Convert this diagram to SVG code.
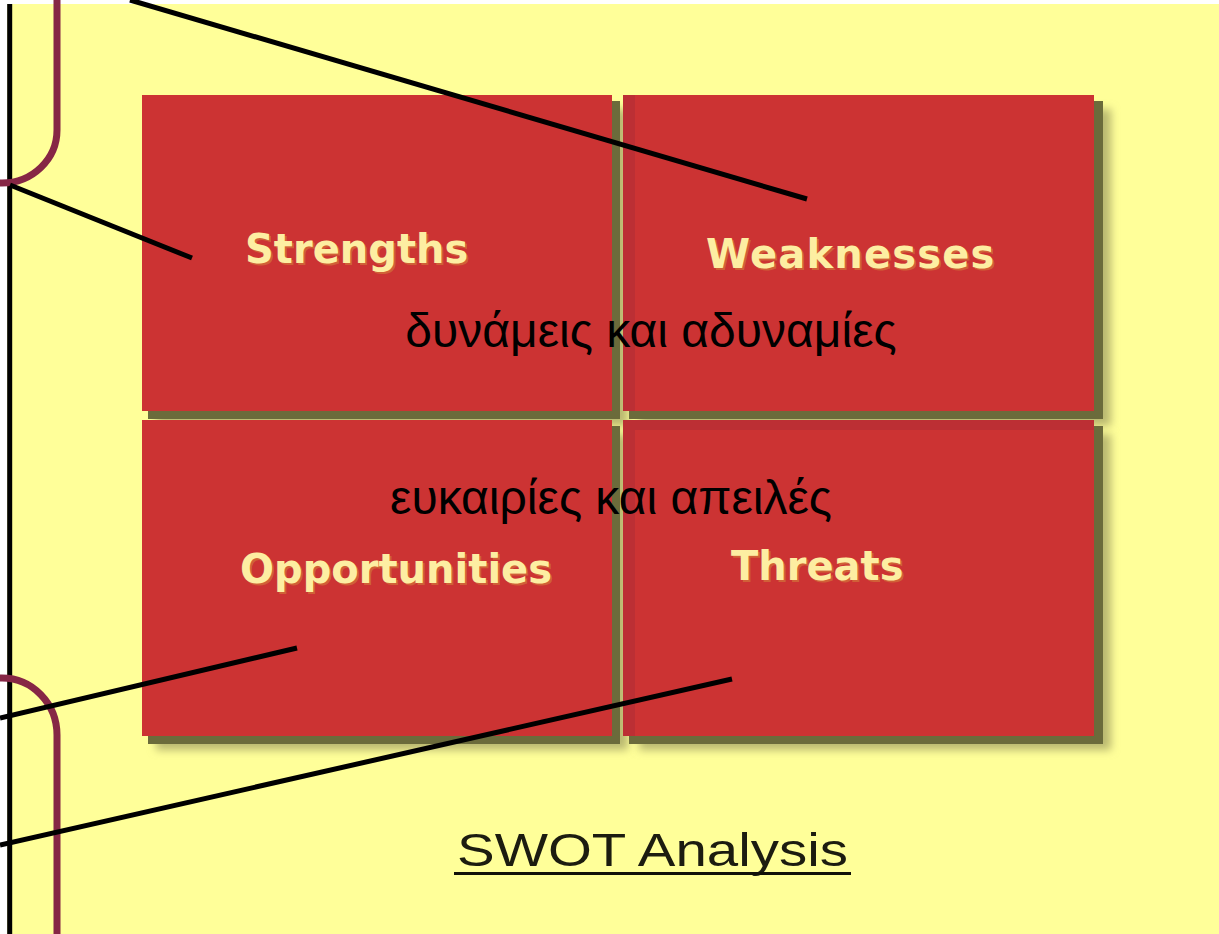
<svg xmlns="http://www.w3.org/2000/svg" width="1219" height="934" viewBox="0 0 1219 934">
<style>
.box{fill:#cc3333}
.sh1{fill:#b9b870}
.sh2{fill:#6b6b3b}
.lbl{font-family:"DejaVu Sans",Verdana,sans-serif;font-weight:bold;font-size:40px;fill:#fdeea2}
.lblsh{font-family:"DejaVu Sans",Verdana,sans-serif;font-weight:bold;font-size:40px;fill:#d2743a;opacity:0.7}
.greek{font-family:"Liberation Sans","Noto Sans",sans-serif;font-size:48px;fill:#000000}
.ln{stroke:#000000;stroke-width:5;fill:none}
.arc{stroke:#862645;stroke-width:7;fill:none}
</style>
<defs>
<filter id="blur" x="-10%" y="-10%" width="120%" height="120%"><feGaussianBlur stdDeviation="4"/></filter>
</defs>
<rect x="0" y="0" width="1219" height="934" fill="#ffffff"/>
<rect x="7" y="4" width="1212" height="930" fill="#ffff99"/>

<g id="shadows">
<rect class="sh1" x="150" y="103" width="472" height="317" filter="url(#blur)" transform="translate(6,6)"/>
<rect class="sh1" x="631" y="103" width="472" height="317" filter="url(#blur)" transform="translate(8,6)"/>
<rect class="sh1" x="150" y="428" width="472" height="316" filter="url(#blur)" transform="translate(6,6)"/>
<rect class="sh1" x="631" y="428" width="472" height="316" filter="url(#blur)" transform="translate(8,6)"/>
</g>

<g id="node-strengths">
<rect class="sh2" x="148" y="101" width="472" height="318"/>
<rect class="box" x="142" y="95" width="470" height="316"/>
<text class="lblsh" x="247" y="265">Strengths</text>
<text class="lbl" x="245" y="263">Strengths</text>
</g>
<g id="node-weaknesses">
<rect class="sh2" x="629" y="101" width="474" height="318"/>
<rect class="box" x="623" y="95" width="471" height="316"/>
<rect x="623" y="95" width="12" height="316" fill="#a82a35" opacity="0.45"/>
<text class="lblsh" x="708" y="270" letter-spacing="1.2">Weaknesses</text>
<text class="lbl" x="706" y="268" letter-spacing="1.2">Weaknesses</text>
</g>
<g id="node-opportunities">
<rect class="sh2" x="148" y="426" width="472" height="318"/>
<rect class="box" x="142" y="420" width="470" height="316"/>
<text class="lblsh" x="242" y="585">Opportunities</text>
<text class="lbl" x="240" y="583">Opportunities</text>
</g>
<g id="node-threats">
<rect class="sh2" x="629" y="426" width="474" height="318"/>
<rect class="box" x="623" y="420" width="471" height="316"/>
<rect x="623" y="420" width="12" height="316" fill="#a82a35" opacity="0.45"/>
<rect x="635" y="420" width="459" height="10" fill="#a82a35" opacity="0.45"/>
<text class="lblsh" x="733" y="582">Threats</text>
<text class="lbl" x="731" y="580">Threats</text>
</g>

<g id="label-sw">
<text class="greek" x="651" y="347" text-anchor="middle">δυνάμεις και αδυναμίες</text>
</g>
<g id="label-ot">
<text class="greek" x="611" y="514" text-anchor="middle">ευκαιρίες και απειλές</text>
</g>

<g id="title">
<text x="457" y="866" font-family="'Liberation Sans',Arial,sans-serif" font-size="46" fill="#1c1c10" textLength="391" lengthAdjust="spacingAndGlyphs">SWOT Analysis</text>
<line x1="454" y1="873.5" x2="851" y2="873.5" stroke="#111108" stroke-width="3"/>
</g>

<g id="connectors">
<line class="ln" x1="9.7" y1="4" x2="9.7" y2="934"/>
<path class="arc" d="M57,-5 V130 A55,53 0 0 1 2,183 H-5"/>
<path class="arc" d="M-5,678 H2 A55,57 0 0 1 57,735 V940"/>
<line class="ln" x1="130" y1="0" x2="807" y2="199"/>
<line class="ln" x1="10" y1="185" x2="192" y2="258"/>
<line class="ln" x1="0" y1="718" x2="297" y2="648"/>
<line class="ln" x1="0" y1="845" x2="732" y2="679"/>
</g>
</svg>
